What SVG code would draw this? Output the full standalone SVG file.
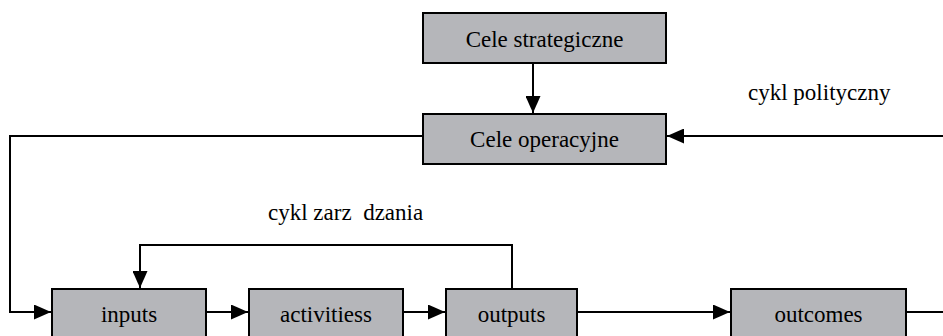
<svg xmlns="http://www.w3.org/2000/svg" width="943" height="336" viewBox="0 0 943 336">
<style>
.box{fill:#b5b6ba;stroke:#000;stroke-width:2}
.ln{fill:none;stroke:#000;stroke-width:2}
</style>
<defs>
<marker id="ah" markerUnits="userSpaceOnUse" markerWidth="17" markerHeight="15" refX="17" refY="7.5" orient="auto">
<path d="M0,0 L17,7.5 L0,15 Z" fill="#000"/>
</marker>
</defs>
<rect width="943" height="336" fill="#fff"/>
<g id="connectors">
<path class="ln" d="M533,63 V113" marker-end="url(#ah)"/>
<path class="ln" d="M943,136 H667" marker-end="url(#ah)"/>
<path class="ln" d="M423,136 H10 V312 H51" marker-end="url(#ah)"/>
<path class="ln" d="M206,312 H248" marker-end="url(#ah)"/>
<path class="ln" d="M403,312 H445" marker-end="url(#ah)"/>
<path class="ln" d="M577,312 H730" marker-end="url(#ah)"/>
<path class="ln" d="M906,312 H943"/>
<path class="ln" d="M512,289 V245 H140 V288" marker-end="url(#ah)"/>
</g>
<g font-family="Liberation Serif, DejaVu Serif, serif" font-size="23" fill="#000">
<g id="cele-strategiczne">
<rect class="box" x="423" y="13" width="243" height="50"/>
<text text-anchor="middle" x="544.5" y="47">Cele strategiczne</text>
</g>
<g id="cele-operacyjne">
<rect class="box" x="423" y="114" width="243" height="50"/>
<text text-anchor="middle" x="544.5" y="147">Cele operacyjne</text>
</g>
<g id="inputs">
<rect class="box" x="52" y="289" width="154" height="60"/>
<text text-anchor="middle" x="129" y="322">inputs</text>
</g>
<g id="activitiess">
<rect class="box" x="249" y="289" width="154" height="60"/>
<text text-anchor="middle" x="326" y="322">activitiess</text>
</g>
<g id="outputs">
<rect class="box" x="446" y="289" width="131" height="60"/>
<text text-anchor="middle" x="511.5" y="322">outputs</text>
</g>
<g id="outcomes">
<rect class="box" x="731" y="289" width="175" height="60"/>
<text text-anchor="middle" x="818.5" y="322">outcomes</text>
</g>
<g id="labels">
<text x="748" y="100">cykl polityczny</text>
<text x="268" y="220" xml:space="preserve">cykl zarz  dzania</text>
</g>
</g>
</svg>
